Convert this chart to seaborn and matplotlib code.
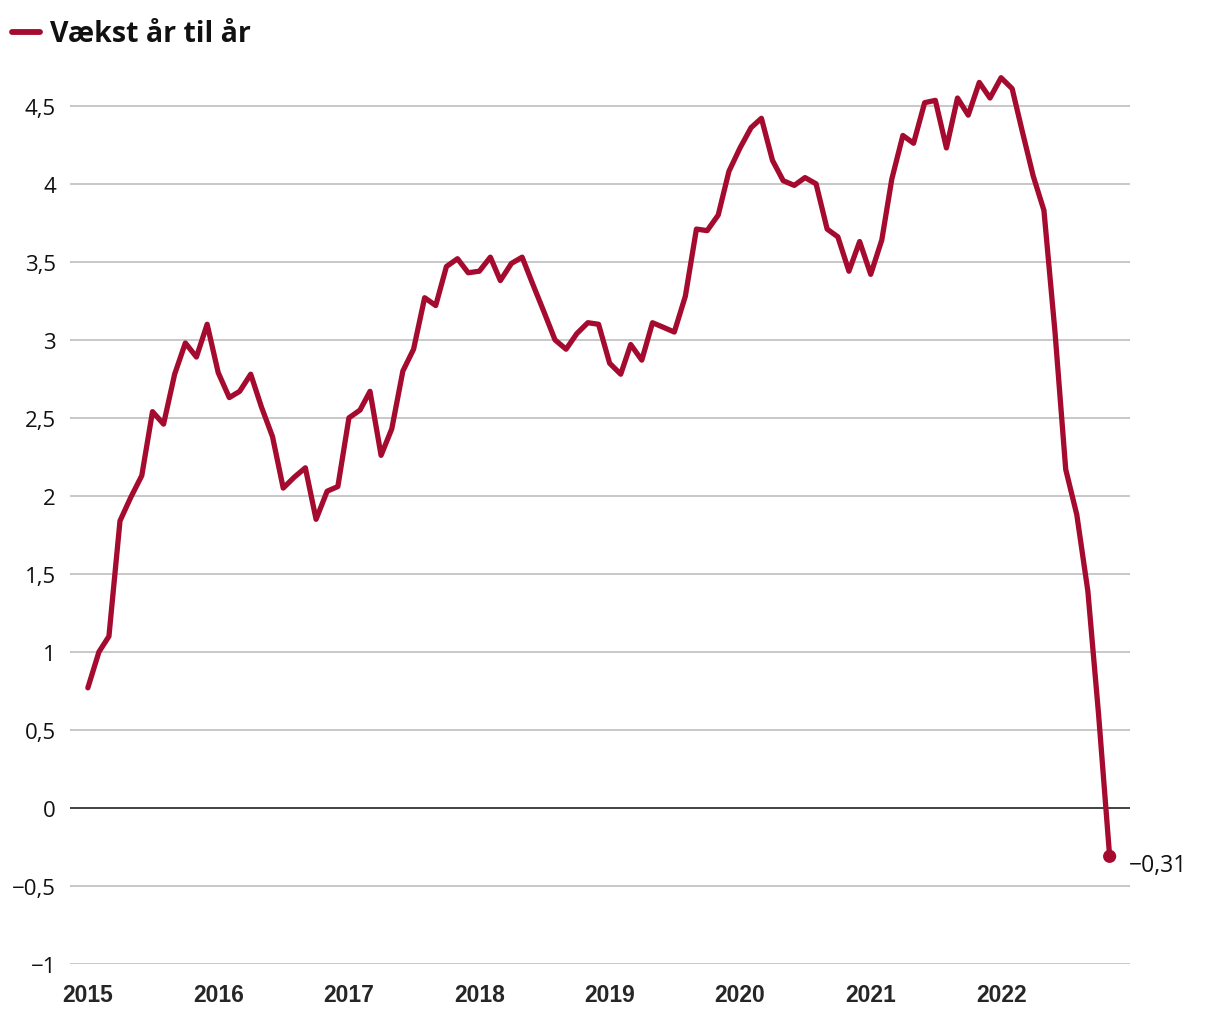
import pandas as pd
import numpy as np
import matplotlib
matplotlib.use('Agg')
import matplotlib.pyplot as plt
from matplotlib.lines import Line2D
import seaborn as sns

# monthly year-on-year growth, Jan 2015 - Nov 2022
start_month = '2015-01-01'
growth = [
    0.77, 1.00, 1.10, 1.84, 1.99, 2.13, 2.54, 2.46, 2.78, 2.98, 2.89, 3.10,
    2.79, 2.63, 2.67, 2.78, 2.57, 2.38, 2.05, 2.12, 2.18, 1.85, 2.03, 2.06,
    2.50, 2.55, 2.67, 2.26, 2.43, 2.80, 2.94, 3.27, 3.22, 3.47, 3.52, 3.43,
    3.44, 3.53, 3.38, 3.49, 3.53, 3.35, 3.18, 3.00, 2.94, 3.04, 3.11, 3.10,
    2.85, 2.78, 2.97, 2.87, 3.11, 3.08, 3.05, 3.28, 3.71, 3.70, 3.80, 4.08,
    4.23, 4.36, 4.42, 4.15, 4.02, 3.99, 4.04, 4.00, 3.71, 3.66, 3.44, 3.63,
    3.42, 3.64, 4.03, 4.31, 4.26, 4.52, 4.535, 4.23, 4.55, 4.44, 4.65, 4.55,
    4.68, 4.61, 4.34, 4.05, 3.83, 3.05, 2.17, 1.88, 1.39, 0.60, -0.31,
]
year_labels = ['2015', '2016', '2017', '2018', '2019', '2020', '2021', '2022']
y_ticks = [-1, -0.5, 0, 0.5, 1, 1.5, 2, 2.5, 3, 3.5, 4, 4.5]
series_name = 'Vækst år til år'

df = pd.DataFrame({
    'month': pd.date_range(start_month, periods=len(growth), freq='MS'),
    'growth': growth,
})

red = '#a50a2f'
grid_grey = '#c4c4c4'


def da_num(v, fmt):
    # danish style: comma decimal, real minus sign
    return format(v, fmt).replace('-', '\u2212').replace('.', ',')


sns.set_style('white')
plt.rcParams['font.family'] = ['Open Sans', 'DejaVu Sans']

fig = plt.figure(figsize=(12.2, 10.2), dpi=100)
ax = fig.add_axes([70 / 1220, 55 / 1020, 1060 / 1220, 905 / 1020])

for v in y_ticks:
    if v == 0:
        continue
    ax.axhline(v, color=grid_grey, lw=1.3, zorder=1)
ax.axhline(0, color='#222222', lw=1.2, zorder=2)

sns.lineplot(data=df, x='month', y='growth', ax=ax, color=red, lw=3.8,
             zorder=3, clip_on=False, solid_joinstyle='round',
             solid_capstyle='round', legend=False)

last = df.iloc[-1]
ax.scatter([last['month']], [last['growth']], s=90, color=red, zorder=4,
           clip_on=False, edgecolors='none')
ax.annotate(da_num(last['growth'], '.2f'),
            xy=(last['month'], last['growth']), xytext=(14, -6),
            textcoords='offset points', fontsize=16.5, va='center',
            ha='left', color='#111111')

ax.set_ylim(-1, 4.8)
ax.set_xlim(df['month'].iloc[0] - pd.Timedelta(days=50),
            df['month'].iloc[-1] + pd.Timedelta(days=57))

ax.set_yticks(y_ticks)
ax.set_yticklabels([da_num(v, 'g') for v in y_ticks], fontsize=16,
                   color='#111111')
ax.set_xticks(pd.to_datetime([f'{y}-01-01' for y in year_labels]))
ax.set_xticklabels(year_labels, fontsize=16.5, fontweight='bold',
                   family=['Liberation Sans', 'DejaVu Sans'])
ax.tick_params(axis='y', length=0, pad=10)
ax.tick_params(axis='x', length=0, pad=14)
ax.set_xlabel('')
ax.set_ylabel('')
for s in ax.spines.values():
    s.set_visible(False)

# legend at the top-left of the figure
fig.add_artist(Line2D([12 / 1220, 40 / 1220], [1 - 33 / 1020, 1 - 33 / 1020],
                      color=red, lw=4.2, solid_capstyle='round'))
fig.text(50 / 1220, 1 - 35 / 1020, series_name, fontsize=20.5,
         fontweight='bold', va='center', ha='left', color='#111111')

fig.savefig('out.png', dpi=100)
